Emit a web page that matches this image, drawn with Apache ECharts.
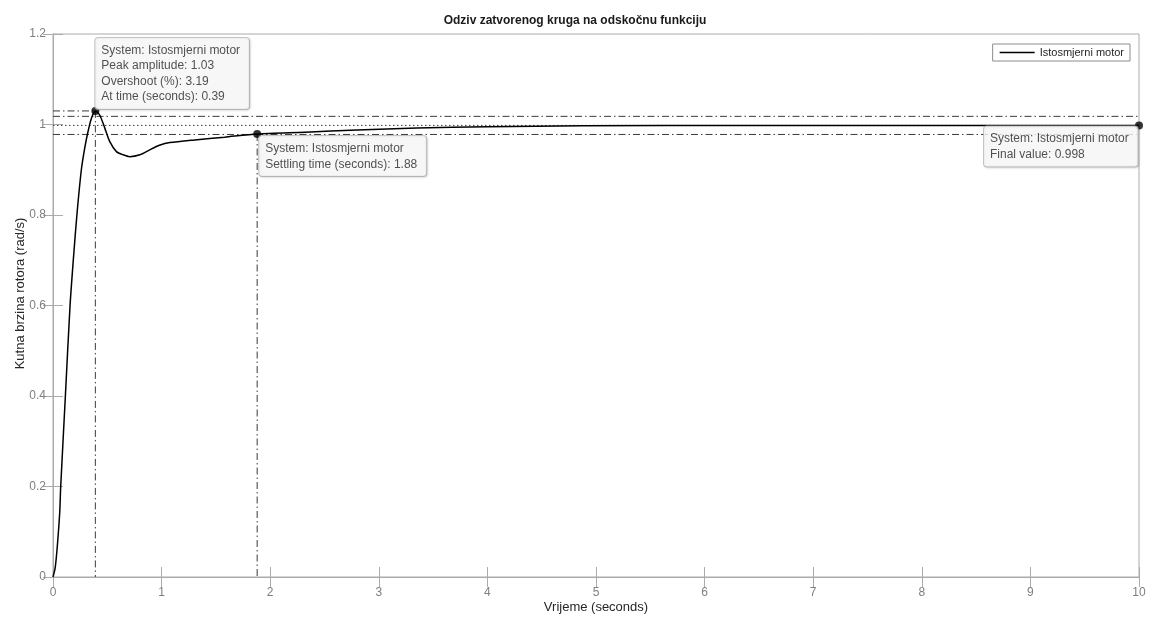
<!DOCTYPE html>
<html>
<head>
<meta charset="utf-8">
<script src="https://cdn.jsdelivr.net/npm/echarts@6/dist/echarts.min.js"></script>
<style>
html,body{margin:0;padding:0;background:#fff;}
#chart{width:1150px;height:619px;}
</style>
</head>
<body>
<div id="chart"></div>
<script>
// ---- data ----
const seriesName = 'Istosmjerni motor';
const titleText = 'Odziv zatvorenog kruga na odskočnu funkciju';
const xName = 'Vrijeme (seconds)';
const yName = 'Kutna brzina rotora (rad/s)';

const time = [0, 0.02, 0.04, 0.062, 0.071, 0.114, 0.157, 0.19, 0.22, 0.261, 0.292, 0.323, 0.354, 0.39, 0.43, 0.477, 0.523, 0.584, 0.645, 0.707, 0.80, 0.89, 0.98, 1.076, 1.306, 1.58, 1.88, 2.32, 2.8, 3.35, 4.0, 4.88, 6.42, 8.0, 10.0];
const response = [0, 0.02, 0.069, 0.143, 0.2, 0.4, 0.6, 0.71, 0.8, 0.9, 0.948, 0.985, 1.014, 1.03, 1.021, 0.992, 0.962, 0.940, 0.933, 0.929, 0.933, 0.944, 0.954, 0.960, 0.966, 0.972, 0.979, 0.983, 0.988, 0.992, 0.995, 0.997, 0.998, 0.998, 0.998];

const peakTime = 0.39, peakValue = 1.03, overshootPct = 3.19;
const settleTime = 1.88, settleValue = 0.979;
const finalTime = 10, finalValue = 0.998;
const bandUpper = 1.018, bandLower = 0.978;

const xMin = 0, xMax = 10, xStep = 1;
const yMin = 0, yMax = 1.2, yStep = 0.2;

// ---- chart ----
const chart = echarts.init(document.getElementById('chart'));
const dashDot = [7, 3, 1.5, 3];
const refColor = '#3a3a3a';
const axisColor = '#ababab';
const labelColor = '#7f7f7f';
const fontFam = '"Liberation Sans", Arial, Helvetica, sans-serif';

function refLine(pts, type) {
  return {
    type: 'line', data: pts, symbol: 'none', silent: true,
    lineStyle: {color: refColor, width: 1, type: type || dashDot},
    z: 1, animation: false
  };
}
const tipLabel = {
  show: true,
  color: '#262626',
  fontFamily: fontFam,
  fontSize: 12,
  lineHeight: 15.5,
  backgroundColor: '#fbfbfb',
  borderColor: '#b8b8b8',
  borderWidth: 1,
  borderRadius: 3,
  padding: [5, 9, 4, 6],
  shadowColor: 'rgba(0,0,0,0.12)',
  shadowBlur: 2,
  shadowOffsetX: 1,
  shadowOffsetY: 1
};

const option = {
  animation: false,
  backgroundColor: '#ffffff',
  textStyle: {fontFamily: fontFam},
  title: {
    text: titleText, left: 'center', top: 10,
    textStyle: {fontSize: 12, fontWeight: 'bold', color: '#1a1a1a', fontFamily: fontFam}
  },
  legend: {
    data: [seriesName], right: 20, top: 44,
    orient: 'vertical',
    borderColor: '#8c8c8c', borderWidth: 1, borderRadius: 0,
    padding: [3, 6, 3, 7],
    icon: 'path://M0,0 L100,0 L100,4 L0,4 Z',
    itemWidth: 35, itemHeight: 1.4, itemGap: 4,
    textStyle: {fontSize: 11, color: '#262626', fontFamily: fontFam},
    backgroundColor: '#fff'
  },
  grid: {
    left: 53, right: 11, top: 34, bottom: 42,
    outerBoundsMode: 'none', containLabel: false,
    show: true, borderColor: axisColor, borderWidth: 1, backgroundColor: '#fff'
  },
  xAxis: [{
    type: 'value', min: xMin, max: xMax, interval: xStep,
    name: xName, nameLocation: 'middle', nameGap: 24, nameMoveOverlap: false,
    nameTextStyle: {fontSize: 13, color: '#262626', fontFamily: fontFam},
    axisLine: {show: true, lineStyle: {color: axisColor}},
    axisTick: {show: true, inside: true, length: 10, lineStyle: {color: axisColor}},
    axisLabel: {color: labelColor, fontSize: 12, margin: 10, fontFamily: fontFam},
    splitLine: {show: false}
  }, {
    type: 'value', min: xMin, max: xMax, interval: xStep, position: 'top',
    axisLine: {show: true, lineStyle: {color: axisColor}},
    axisTick: {show: true, inside: true, length: 10, lineStyle: {color: axisColor}},
    axisLabel: {show: false}, splitLine: {show: false}
  }],
  yAxis: [{
    type: 'value', min: yMin, max: yMax, interval: yStep,
    name: yName, nameLocation: 'middle', nameGap: 26, nameMoveOverlap: false,
    nameTextStyle: {fontSize: 13, color: '#262626', fontFamily: fontFam, padding: [0, 0, 0, 24]},
    axisLine: {show: true, lineStyle: {color: axisColor}},
    axisTick: {show: true, inside: true, length: 10, lineStyle: {color: axisColor}},
    axisLabel: {color: labelColor, fontSize: 12, margin: 7, fontFamily: fontFam},
    splitLine: {show: false}
  }, {
    type: 'value', min: yMin, max: yMax, interval: yStep, position: 'right',
    axisLine: {show: true, lineStyle: {color: axisColor}},
    axisTick: {show: true, inside: true, length: 10, lineStyle: {color: axisColor}},
    axisLabel: {show: false}, splitLine: {show: false}
  }],
  series: [
    refLine([[xMin, peakValue], [peakTime, peakValue]]),
    refLine([[peakTime, peakValue], [peakTime, yMin]]),
    refLine([[settleTime, settleValue], [settleTime, yMin]]),
    refLine([[xMin, bandUpper], [xMax, bandUpper]]),
    refLine([[xMin, bandLower], [xMax, bandLower]]),
    refLine([[xMin, finalValue], [xMax, finalValue]], [1.5, 2.5]),
    {
      name: seriesName, type: 'line', symbol: 'none', smooth: 0.25,
      data: time.map((t, i) => [t, response[i]]),
      lineStyle: {color: '#000', width: 1.5},
      itemStyle: {color: '#000'},
      z: 3
    },
    {
      type: 'scatter', symbolSize: 8, itemStyle: {color: '#000'}, z: 10,
      data: [{
        value: [peakTime, peakValue],
        label: Object.assign({}, tipLabel, {
          position: [4, 2], align: 'left', verticalAlign: 'bottom',
          formatter: 'System: ' + seriesName + '\nPeak amplitude: ' + peakValue.toFixed(2) +
            '\nOvershoot (%): ' + overshootPct.toFixed(2) + '\nAt time (seconds): ' + peakTime.toFixed(2)
        })
      }, {
        value: [settleTime, settleValue],
        label: Object.assign({}, tipLabel, {
          position: [6, 6], align: 'left', verticalAlign: 'top',
          formatter: 'System: ' + seriesName + '\nSettling time (seconds): ' + settleTime.toFixed(2)
        })
      }, {
        value: [finalTime, finalValue],
        label: Object.assign({}, tipLabel, {
          position: [-151, 5], align: 'left', verticalAlign: 'top',
          formatter: 'System: ' + seriesName + '\nFinal value: ' + finalValue.toFixed(3)
        })
      }]
    }
  ]
};
chart.setOption(option);
</script>
</body>
</html>
